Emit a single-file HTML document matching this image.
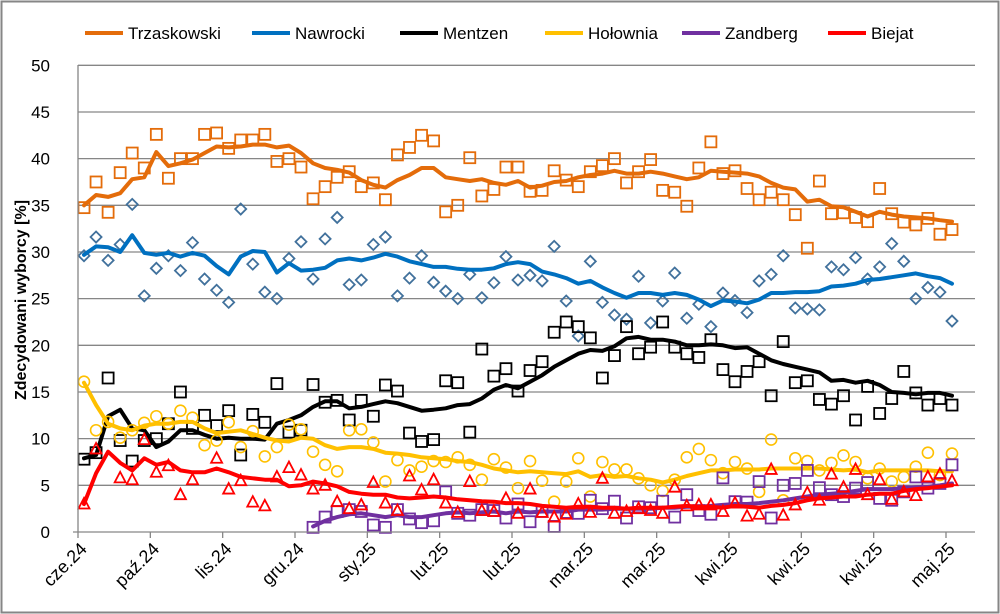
<!DOCTYPE html>
<html><head><meta charset="utf-8"><style>
html,body{margin:0;padding:0;background:#fff}
svg{display:block;font-family:"Liberation Sans",sans-serif}
</style></head><body>
<svg id="chart" width="1000" height="614" viewBox="0 0 1000 614" xmlns="http://www.w3.org/2000/svg">
<rect x="1.5" y="1.5" width="997" height="611" fill="#fff" stroke="#868686" stroke-width="2"/>
<g id="grid"></g><g id="series"></g><g id="axes"></g><g id="legend"></g>
<text transform="translate(26,300) rotate(-90)" text-anchor="middle" font-size="16" font-weight="bold" fill="#000">Zdecydowani wyborcy [%]</text>
</svg>
<script>
const xLabels=["cze.24","paź.24","lis.24","gru.24","sty.25","lut.25","lut.25","mar.25","mar.25","kwi.25","kwi.25","kwi.25","maj.25"];
const yTicks=[0,5,10,15,20,25,30,35,40,45,50];
const names=["Trzaskowski","Nawrocki","Mentzen","Hołownia","Zandberg","Biejat"];
const trzPts=[34.75,37.5,34.25,38.5,40.6,39,42.6,37.9,40,40,42.6,42.75,41.1,42,42,42.6,39.7,40,39.1,35.7,37,38,38.6,37,37.4,35.6,40.4,41.2,42.5,41.9,34.3,35,40.1,36,36.7,39.1,39.1,36.5,36.6,38.7,37.7,37,38.6,39.25,40,37.4,38.6,39.9,36.6,36.4,34.9,39,41.8,38.4,38.7,36.8,35.6,36.4,35.6,34,30.4,37.6,34.1,34.2,33.7,33.25,36.8,34.1,33.2,32.9,33.6,31.9,32.4];
const trzTrend=[35,36.1,35.9,36.3,37.8,38,40.7,39.2,39.5,39.9,40.6,41.3,41.2,41.3,41.5,41.5,41.2,41.4,40.6,39.5,39,38.8,38.5,37.7,37.2,36.9,37.7,38.25,39,39,38,37.8,37.6,37.8,37.4,37.2,37.6,36.9,37.1,37.5,37.6,38,38.25,38.4,38.7,38.4,38.4,38.6,38.4,38.1,37.8,38,38.7,38.6,38.5,38.4,38.1,37.4,36.9,36.7,35.4,35.6,34.9,34.8,34.3,33.8,34.3,34,33.8,33.7,33.6,33.4,33.25];
const nawPts=[29.6,31.6,29.1,30.8,35.1,25.3,28.25,29.6,28,31,27.1,25.9,24.6,34.6,28.7,25.7,25,29.3,31.1,27.1,31.4,33.7,26.5,27,30.8,31.6,25.3,27.2,29.6,26.75,25.8,25,27.6,25.1,26.7,29.5,27,27.5,26.9,30.6,24.75,21,29,24.6,23.25,22.8,27.4,22.4,24.75,27.75,22.9,24.4,22,25.6,24.8,23.5,26.9,27.6,29.6,24,23.9,23.8,28.4,28.1,29.4,27.1,28.4,30.9,29,25,26.2,25.7,22.6];
const nawTrend=[29.7,30.6,30.5,30,31.8,29.9,29.7,29.9,29.5,29.9,29.6,28.5,27.6,29.5,30.1,30,27.8,28.8,28,28.1,28.3,29.1,29.3,29.1,29.4,29.8,29.5,29,28.7,28.4,28.4,28.2,28.1,28.1,28.25,28.7,28.9,28.7,27.9,27.6,27.2,26.6,26.9,26.2,25.6,25.1,25.6,25.6,25.4,25.6,25.4,24.9,24.2,24.8,24.7,24.5,24.9,25.6,25.6,25.7,25.7,25.8,26.3,26.4,26.6,27,27.1,27.3,27.5,27.7,27.4,27.2,26.6];
const menPts=[7.8,8.5,16.5,9.8,7.6,9.8,10,11.6,15,11.1,12.5,11.4,13,8.25,12.6,11.75,15.9,10.7,10.9,15.8,13.9,14.1,12,14.1,12.4,15.75,15.1,10.6,9.7,9.9,16.2,16,10.7,19.6,16.7,17.5,15.1,17.3,18.25,21.4,22.5,22,20.8,16.5,18.9,22,19.1,19.8,22.5,19.8,19.1,18.7,20.6,17.4,16.1,17.2,18.25,14.6,20.4,16,16.2,14.2,13.7,14.6,12,15.6,12.7,14.3,17.2,14.9,13.6,14.3,13.6];
const menTrend=[7.9,8.25,12.4,13.1,11.1,10.9,9.1,9.7,10.9,10.9,10.4,10,10.1,10,10,9.9,11.6,12,12.5,13.4,14,14,13.25,13.4,13.7,14,13.8,13.4,13,13.1,13.25,13.6,13.7,14.3,15.25,15.75,15.4,16.1,16.8,17.7,18.4,19.1,19.5,19.4,19.9,20.75,20.9,20.6,20.6,20.4,20,20,20.1,20,19.7,19.8,19.1,18.4,18,17.7,17.4,17.1,16.2,16.3,16,16.2,15.75,15,14.9,14.75,14.9,14.9,14.6];
const holPts=[16.1,10.9,11.8,10.1,10.9,11.7,12.4,11.6,13,12.25,9.3,9.8,11.75,9.1,10.8,8.1,9.1,11.5,11,8.6,7.2,6.5,10.9,11,9.6,5.4,7.7,6.6,7,7.6,7.5,8,7.2,5.6,7.8,6.9,4.7,7.6,5.5,3.25,5.4,7.9,3.8,7.5,6.7,6.7,5.75,5,4.4,5.6,8,8.9,7.7,6.3,7.5,6.8,4.3,9.9,3.4,7.9,7.6,6.6,7.4,8.2,7.5,5.75,6.8,5.4,5.9,7,8.5,6.1,8.4];
const holTrend=[16,13.6,11.6,11.1,10.9,11.4,11.6,11.6,11.8,11.8,11.1,10.6,10.75,10.9,10.5,10.1,9.8,9.7,10.1,10,9.3,8.9,9.1,9.1,8.9,8.5,8.4,8.25,8,7.9,7.8,7.6,7.5,7.2,6.8,6.6,6.4,6.5,6.4,6.3,6.2,6.5,5.9,6.1,5.9,6,5.75,5.6,5.3,5.6,6,6.3,6.6,6.6,6.7,6.7,6.7,6.8,6.8,6.8,6.8,6.8,6.7,6.6,6.7,6.4,6.6,6.6,6.6,6.6,6.6,6.5,6.5];
const zanPts=[null,null,null,null,null,null,null,null,null,null,null,null,null,null,null,null,null,null,null,0.5,1.6,2.2,2.4,2.2,0.75,0.5,2.4,1.4,1,1.2,4.3,2,1.8,2.4,2.3,1.5,3,1.1,2.2,0.6,2.1,2,3.4,2.5,3.3,1.5,2.7,2.6,3.3,1.6,4,2.3,1.9,5.8,3.25,3.2,5.4,1.5,5,5.2,6.6,4.75,4,3.8,4.7,5.3,3.6,3.4,4.3,5.9,4.7,5.2,7.2];
const zanTrend=[null,null,null,null,null,null,null,null,null,null,null,null,null,null,null,null,null,null,null,0.6,1.2,1.6,1.9,2,1.8,1.6,1.8,1.6,1.6,1.8,2,2.1,2,2.1,2.2,2,2.2,2.1,2.2,2.2,2.2,2.4,2.4,2.4,2.5,2.5,2.5,2.5,2.6,2.6,2.7,2.7,2.8,2.9,3,3,3.1,3.25,3.4,3.6,3.8,4,4.1,4.2,4.4,4.6,4.6,4.6,4.7,4.8,4.85,5,5.2];
const biePts=[3,8.9,null,5.8,5.6,9.9,6.4,7.1,4,5.6,null,7.9,4.6,5.5,3.2,2.8,5.9,6.9,6.1,4.6,5,3.25,2.5,2.9,5.3,3.1,2.3,6,4.5,5.6,3.1,2.1,5.4,2.3,2.2,3.6,2,4.6,2.1,1.6,1.9,3,2.1,5.75,2,2.2,2.5,2.3,2,4.8,2.8,2.9,2.9,2.2,3.1,1.7,1.9,6.7,1.8,2.9,4.2,3.4,6.2,4.8,6.7,4,5.6,3.5,4.3,3.9,5.9,6.2,5.5];
const bieTrend=[3,6.3,8.6,7.4,6.6,7.9,7.2,7.5,6.6,6.4,6.4,6.8,6.4,5.9,5.75,5.6,5.6,4.9,5,5.4,5.2,4.9,4.3,4.1,4,4,3.7,3.6,3.7,3.8,3.7,3.5,3.4,3.3,3.25,3.1,3.1,3,2.8,2.7,2.6,2.7,2.7,2.6,2.6,2.5,2.6,2.6,2.6,2.7,2.8,2.7,2.7,2.6,2.8,2.7,2.6,2.8,2.9,3.1,3.4,3.6,3.7,3.8,3.8,4,4.1,4.1,4.4,4.6,4.7,4.85,5];

const NS="http://www.w3.org/2000/svg";
const X0=78, STEP=(946-78)/72, Y0=532, YS=(532-65.3)/50;
function xp(i){return X0+6+i*STEP;}
function yp(v){return Y0-v*YS;}
function mk(tag,attrs,parent){const e=document.createElementNS(NS,tag);for(const k in attrs)e.setAttribute(k,attrs[k]);parent.appendChild(e);return e;}
const grid=document.getElementById('grid'),axes=document.getElementById('axes'),ser=document.getElementById('series'),leg=document.getElementById('legend');
yTicks.forEach(t=>{
  if(t>0){const l=mk('line',{x1:X0,x2:975,y1:yp(t),y2:yp(t),stroke:'#868686','stroke-width':1.3},grid);
  
  }
  const tx=mk('text',{x:50,y:yp(t)+6,'text-anchor':'end','font-size':17,fill:'#000'},axes);tx.textContent=t;
  
  
});
let a=mk('line',{x1:X0,x2:X0,y1:65,y2:Y0,stroke:'#868686','stroke-width':1.3},axes);


a=mk('line',{x1:X0-5,x2:975,y1:Y0,y2:Y0,stroke:'#868686','stroke-width':1.3},axes);


xLabels.forEach((lab,k)=>{
  const tx0=X0+k*6*STEP;
  const t=mk('line',{x1:tx0,x2:tx0,y1:Y0,y2:Y0+6,stroke:'#868686','stroke-width':1.3},axes);
  
  
  const tx=mk('text',{transform:`translate(${tx0+10},${Y0+18}) rotate(-45)`,'text-anchor':'end','font-size':18,fill:'#000'},axes);
  tx.textContent=lab;
  
  
});
function marker(kind,cx,cy,col,g){
  let e;
  if(kind==='sq')e=mk('rect',{x:cx-5.5,y:cy-5.5,width:11,height:11,fill:'none',stroke:col,'stroke-width':1.8},g);
  else if(kind==='di')e=mk('path',{d:`M${cx},${cy-5.5}L${cx+5.5},${cy}L${cx},${cy+5.5}L${cx-5.5},${cy}Z`,fill:'none',stroke:col,'stroke-width':1.8},g);
  else if(kind==='ci')e=mk('circle',{cx:cx,cy:cy,r:5.5,fill:'none',stroke:col,'stroke-width':1.6},g);
  else e=mk('path',{d:`M${cx},${cy-6}L${cx+5.5},${cy+4.5}L${cx-5.5},${cy+4.5}Z`,fill:'none',stroke:col,'stroke-width':1.8},g);
  return e;
}
const seriesDefs=[
 {n:'trzaskowski',pts:trzPts,tr:trzTrend,line:'#E46C0A',mc:'#E46C0A',m:'sq'},
 {n:'nawrocki',pts:nawPts,tr:nawTrend,line:'#0070C0',mc:'#41719C',m:'di'},
 {n:'mentzen',pts:menPts,tr:menTrend,line:'#000000',mc:'#000000',m:'sq'},
 {n:'holownia',pts:holPts,tr:holTrend,line:'#FFC000',mc:'#FFC000',m:'ci'},
 {n:'zandberg',pts:zanPts,tr:zanTrend,line:'#7030A0',mc:'#7030A0',m:'sq'},
 {n:'biejat',pts:biePts,tr:bieTrend,line:'#FF0000',mc:'#FF0000',m:'tr'}
];
seriesDefs.forEach(s=>{
  const g=mk('g',{},ser);
  
  
  s.pts.forEach((v,i)=>{if(v==null)return;
    const e=marker(s.m,xp(i),yp(v),s.mc,g);
    
    
  });
  let d='';s.tr.forEach((v,i)=>{if(v==null)return;d+=(d?'L':'M')+xp(i).toFixed(1)+','+yp(v).toFixed(1);});
  const p=mk('path',{d:d,fill:'none',stroke:s.line,'stroke-width':4,'stroke-linejoin':'round','stroke-linecap':'round'},g);
  
  
});
const legX=[85,252,400,545,682,828];
seriesDefs.forEach((s,k)=>{
  const g=mk('g',{},leg);
  
  
  mk('line',{x1:legX[k],x2:legX[k]+38,y1:33,y2:33,stroke:s.line,'stroke-width':4},g);
  const t=mk('text',{x:legX[k]+43,y:39,'font-size':17,fill:'#000'},g);t.textContent=names[k];
});
</script>
</body></html>
